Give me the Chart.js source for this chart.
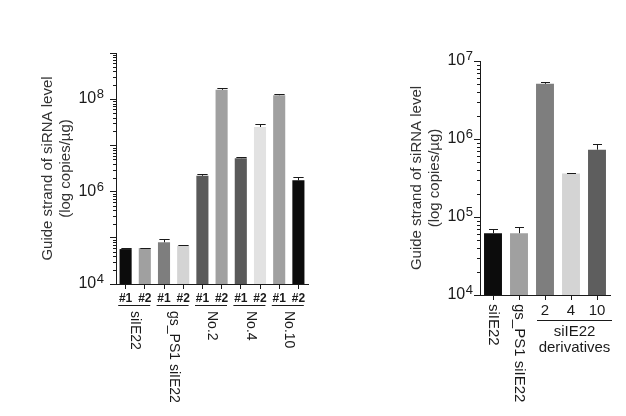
<!DOCTYPE html>
<html>
<head>
<meta charset="utf-8">
<script src="https://cdn.jsdelivr.net/npm/chart.js@4.4.1/dist/chart.umd.min.js"></script>
<style>
  body { margin: 0; background: #fff; width: 626px; height: 416px; overflow: hidden; position: relative; }
  canvas { position: absolute; top: 0; }
  #left { left: 0; }
  #right { left: 395px; }
</style>
</head>
<body>
<canvas id="left" width="330" height="416"></canvas>
<canvas id="right" width="231" height="416"></canvas>
<script>
//--- data, left panel
var leftReps = ['#1', '#2', '#1', '#2', '#1', '#2', '#1', '#2', '#1', '#2'];
var leftGroups = ['siIE22', 'gs_PS1 siIE22', 'No.2', 'No.4', 'No.10'];
var leftValues = [5.7e4, 6.0e4, 8.0e4, 6.7e4, 2.2e6, 1.6e8, 5.3e6, 2.5e7, 1.22e8, 1.75e6];
var leftErrors = [4e3, 1e3, 1.4e4, 2e3, 1.5e5, 1.7e7, 2e5, 4e6, 9e6, 3.5e5];
var leftColors = ['#0c0c0c', '#a0a0a0', '#7e7e7e', '#d4d4d4', '#5a5a5a', '#a0a0a0', '#5a5a5a', '#e2e2e2', '#a0a0a0', '#0c0c0c'];
var leftTicks = [1e4, 1e5, 1e6, 1e7, 1e8, 1e9];
var leftTickExp = ['4', '', '6', '', '8', ''];   // label = 10^exp, blank = unlabelled

//--- data, right panel
var rightCats = ['siIE22', 'gs_PS1 siIE22', '2', '4', '10'];
var rightValues = [6.2e4, 6.2e4, 5.1e6, 3.6e5, 7.3e5];
var rightErrors = [9e3, 1.2e4, 3e5, 5e3, 1.4e5];
var rightColors = ['#0c0c0c', '#a0a0a0', '#7e7e7e', '#d4d4d4', '#5e5e5e'];
var rightTicks = [1e4, 1e5, 1e6, 1e7];
var rightTickExp = ['4', '5', '6', '7'];
var rightGroupLabel = ['siIE22', 'derivatives'];

var FONT = "'Liberation Sans', Arial, sans-serif";
var INK = '#1a1a1a';
var yTitle = ['Guide strand of siRNA level', '(log copies/µg)'];

// minor log ticks, 10^n labels, error bars (all placed with the chart's own scales)
var extras = {
    id: 'extras',
    afterDatasetsDraw: function (chart, args, opts) {
        var ctx = chart.ctx, y = chart.scales.y;
        var meta = chart.getDatasetMeta(0);
        var vals = chart.data.datasets[0].data;
        ctx.save();
        ctx.strokeStyle = INK;
        ctx.lineWidth = 1;
        for (var e = Math.log10(y.min); e < Math.log10(y.max); e++) {
            for (var k = 2; k <= 9; k++) {
                var py = Math.round(y.getPixelForValue(k * Math.pow(10, e))) + 0.5;
                ctx.beginPath();
                ctx.moveTo(y.right - 3, py);
                ctx.lineTo(y.right, py);
                ctx.stroke();
            }
        }
        opts.errors.forEach(function (err, i) {
            var bar = meta.data[i];
            var x = Math.round(bar.x) + 0.5;
            var top = Math.round(y.getPixelForValue(vals[i] + err)) + 0.5;
            var half = bar.width * opts.cap / 2;
            ctx.beginPath();
            ctx.moveTo(x, bar.y);
            ctx.lineTo(x, top);
            ctx.moveTo(x - half, top);
            ctx.lineTo(x + half, top);
            ctx.stroke();
        });
        // power-of-ten labels with a big superscript
        ctx.fillStyle = INK;
        ctx.textBaseline = 'alphabetic';
        opts.ticks.forEach(function (v, i) {
            var ex = opts.exps[i];
            if (!ex) return;
            var py = y.getPixelForValue(v);
            var right = y.right - opts.gap;
            ctx.font = '13px ' + FONT;
            ctx.textAlign = 'right';
            ctx.fillText(ex, right, py - 1);
            var w = ctx.measureText(ex).width;
            ctx.font = '16px ' + FONT;
            ctx.fillText('10', right - w - 0.5, py + 4);
        });
        ctx.restore();
    },
    afterDraw: function (chart, args, opts) {
        if (opts.groups) opts.groups(chart);
    }
};

function yAxis(ticks, width, titlePad) {
    return {
        type: 'logarithmic',
        min: ticks[0],
        max: ticks[ticks.length - 1],
        afterBuildTicks: function (s) { s.ticks = ticks.map(function (v) { return { value: v }; }); },
        afterFit: function (s) { s.width = width; },
        ticks: { display: false, autoSkip: false },
        grid: { drawOnChartArea: false, drawTicks: true, tickLength: 6, color: INK },
        border: { color: INK, width: 1 },
        title: {
            display: true,
            text: yTitle,
            color: '#333',
            font: { family: FONT, size: 15, lineHeight: 1.2 },
            padding: { top: titlePad, bottom: 0 }
        }
    };
}

function xAxis(height, font, labelFn) {
    return {
        afterFit: function (s) { s.height = height; },
        grid: { offset: false, drawOnChartArea: false, tickLength: 5, color: INK },
        border: { color: INK, width: 1 },
        ticks: {
            autoSkip: false,
            maxRotation: 0,
            padding: 2,
            color: INK,
            font: font,
            callback: labelFn
        }
    };
}

function vText(ctx, txt, x, y) {
    ctx.save();
    ctx.translate(x, y);
    ctx.rotate(Math.PI / 2);
    ctx.fillText(txt, 0, 0);
    ctx.restore();
}

//--- left panel
new Chart(document.getElementById('left'), {
    type: 'bar',
    data: {
        labels: leftReps,
        datasets: [{ data: leftValues, backgroundColor: leftColors, barPercentage: 0.63, categoryPercentage: 1 }]
    },
    options: {
        responsive: false,
        animation: false,
        layout: { padding: { top: 53, right: 22, left: 0, bottom: 0 } },
        plugins: {
            legend: { display: false },
            tooltip: { enabled: false },
            extras: {
                errors: leftErrors,
                cap: 0.85,
                ticks: leftTicks,
                exps: leftTickExp,
                gap: 12,
                groups: function (chart) {
                    var ctx = chart.ctx, x = chart.scales.x;
                    ctx.save();
                    ctx.strokeStyle = INK;
                    ctx.fillStyle = INK;
                    ctx.lineWidth = 1;
                    ctx.font = '14px ' + FONT;
                    ctx.textBaseline = 'middle';
                    ctx.textAlign = 'left';
                    leftGroups.forEach(function (g, gi) {
                        var cx = (x.getPixelForValue(gi * 2) + x.getPixelForValue(gi * 2 + 1)) / 2;
                        ctx.beginPath();
                        ctx.moveTo(cx - 17, 305.5);
                        ctx.lineTo(cx + 15, 305.5);
                        ctx.stroke();
                        vText(ctx, g, cx, 311);
                    });
                    ctx.restore();
                }
            }
        },
        scales: {
            x: xAxis(132, { family: FONT, size: 12, weight: 'bold' }, function (v, i) { return leftReps[i]; }),
            y: yAxis(leftTicks, 116, 39)
        }
    },
    plugins: [extras]
});

//--- right panel
new Chart(document.getElementById('right'), {
    type: 'bar',
    data: {
        labels: rightCats,
        datasets: [{ data: rightValues, backgroundColor: rightColors, barPercentage: 0.69, categoryPercentage: 1 }]
    },
    options: {
        responsive: false,
        animation: false,
        layout: { padding: { top: 61, right: 16, left: 0, bottom: 0 } },
        plugins: {
            legend: { display: false },
            tooltip: { enabled: false },
            extras: {
                errors: rightErrors,
                cap: 0.5,
                ticks: rightTicks,
                exps: rightTickExp,
                gap: 7,
                groups: function (chart) {
                    var ctx = chart.ctx, x = chart.scales.x;
                    ctx.save();
                    ctx.strokeStyle = INK;
                    ctx.fillStyle = INK;
                    ctx.lineWidth = 1;
                    ctx.font = '15px ' + FONT;
                    ctx.textBaseline = 'middle';
                    ctx.textAlign = 'left';
                    vText(ctx, rightCats[0], x.getPixelForValue(0), 304);
                    vText(ctx, rightCats[1], x.getPixelForValue(1), 304);
                    var x0 = x.getPixelForValue(2) - 8, x1 = x.getPixelForValue(4) + 15;
                    ctx.beginPath();
                    ctx.moveTo(x0, 320.5);
                    ctx.lineTo(x1, 320.5);
                    ctx.stroke();
                    ctx.textAlign = 'center';
                    var mid = (x0 + x1) / 2;
                    ctx.fillText(rightGroupLabel[0], mid, 332);
                    ctx.fillText(rightGroupLabel[1], mid, 348);
                    ctx.restore();
                }
            }
        },
        scales: {
            x: xAxis(121, { family: FONT, size: 15 }, function (v, i) { return i < 2 ? '' : rightCats[i]; }),
            y: yAxis(rightTicks, 85, 13)
        }
    },
    plugins: [extras]
});
</script>
</body>
</html>
